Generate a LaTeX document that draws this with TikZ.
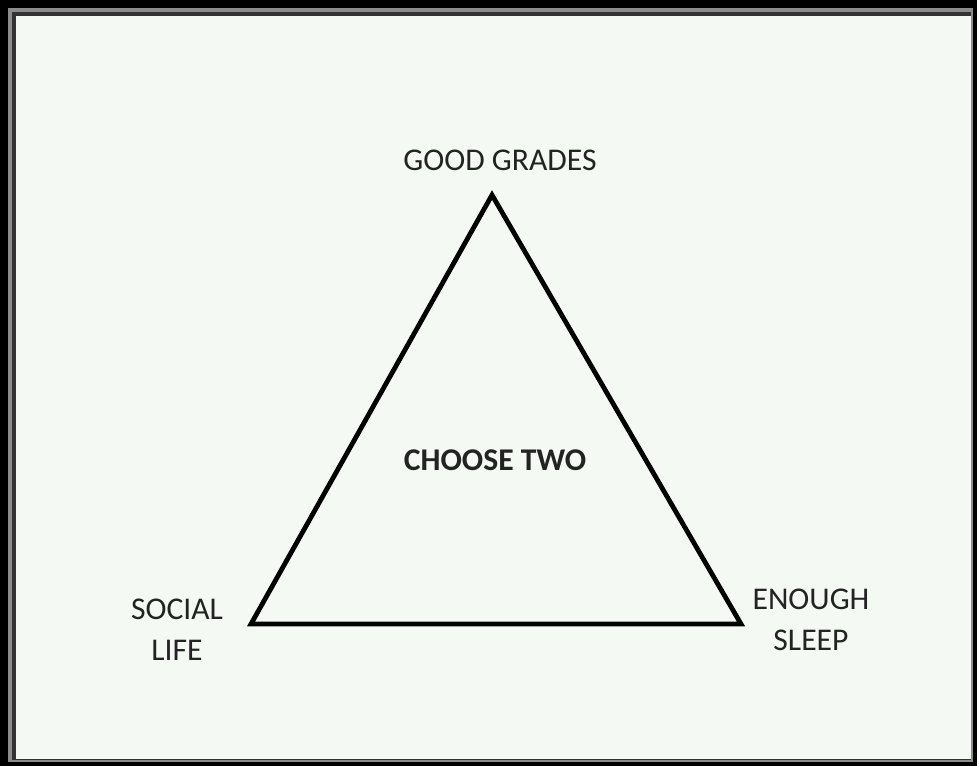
\documentclass[tikz,border=0pt]{standalone}
\usepackage{fontspec}
\setmainfont{Carlito}
\usepackage{tikz}
\usepackage{xcolor}
\definecolor{paper}{RGB}{245, 249, 244}
\definecolor{ink}{RGB}{35, 35, 35}
\usetikzlibrary{positioning}

\begin{document}
\begin{tikzpicture}[x=0.025cm, y=-0.025cm,
    lbl/.style={text=ink, font=\fontsize{22.5}{29}\selectfont, align=center, inner sep=0pt}]
  % frame
  \fill[black] (0,0) rectangle (977,766);
  \fill[black!45] (8,8) rectangle (973,762);
  \fill[black!80] (12,12) rectangle (971,760);
  \fill[paper] (16,16) rectangle (971,759);
  \useasboundingbox (0,0) rectangle (977,766);
  % corners
  \coordinate (top) at (492,195);
  \coordinate (sw) at (251,624);
  \coordinate (se) at (741,624);
  \draw[line width=3.4pt, line join=miter, black] (top) -- (sw) -- (se) -- cycle;
  \node[lbl] (grades) at (500,160) {GOOD GRADES};
  \node[lbl, font=\bfseries\fontsize{22.5}{29}\selectfont] (choose) at (495,460) {CHOOSE TWO};
  \node[lbl] (social) at (177,630) {SOCIAL\\LIFE};
  \node[lbl] (sleep) at (811,620) {ENOUGH\\SLEEP};
\end{tikzpicture}
\end{document}
